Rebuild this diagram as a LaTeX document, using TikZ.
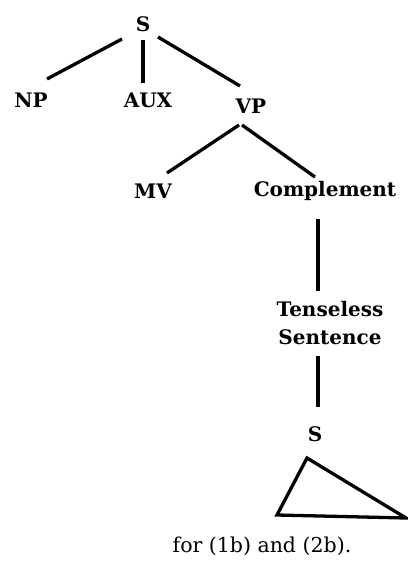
\documentclass[tikz,border=0pt]{standalone}
\usepackage{fontspec}
\setmainfont{DejaVu Serif}
\begin{document}
\begin{tikzpicture}[x=1pt,y=-1pt,
  lab/.style={inner sep=0pt,font=\fontsize{20}{28}\selectfont\bfseries},
  captxt/.style={inner sep=0pt,font=\fontsize{20.5}{26}\selectfont},
  edge/.style={line width=3.3pt}]
\useasboundingbox (0,0) rectangle (407,561);
\node[lab] (S1) at (143,24) {S};
\node[lab] (NP) at (31,100) {NP};
\node[lab] (AUX) at (148,100) {AUX};
\node[lab] (VP) at (251,106) {VP};
\node[lab] (MV) at (153,191) {MV};
\node[lab] (CO) at (325,191) {Complement};
\node[lab,align=center] (TS) at (330,323) {Tenseless\\Sentence};
\node[lab] (S2) at (315,434) {S};
\coordinate (A) at (307,458);
\coordinate (L) at (277,515);
\coordinate (R) at (406,518);
\node[captxt] (C) at (262,546) {for (1b) and (2b).};
\draw[edge] ([shift={(-21,15)}]S1.center) -- ([shift={(16,-21)}]NP.center);
\draw[edge] ([shift={(0,16)}]S1.center) -- ([shift={(-5,-17)}]AUX.center);
\draw[edge] ([shift={(15,13)}]S1.center) -- ([shift={(-11,-20)}]VP.center);
\draw[edge] ([shift={(-12,19)}]VP.center) -- ([shift={(14,-18)}]MV.center);
\draw[edge] ([shift={(-9,19)}]VP.center) -- ([shift={(-10,-14)}]CO.center);
\draw[edge] ([shift={(-7,28)}]CO.center) -- ([shift={(-12,-32)}]TS.center);
\draw[edge] ([shift={(-12,33)}]TS.center) -- ([shift={(3,-27)}]S2.center);
\draw[edge,line join=miter] (A) -- (L) -- (R) -- cycle;
\end{tikzpicture}
\end{document}
